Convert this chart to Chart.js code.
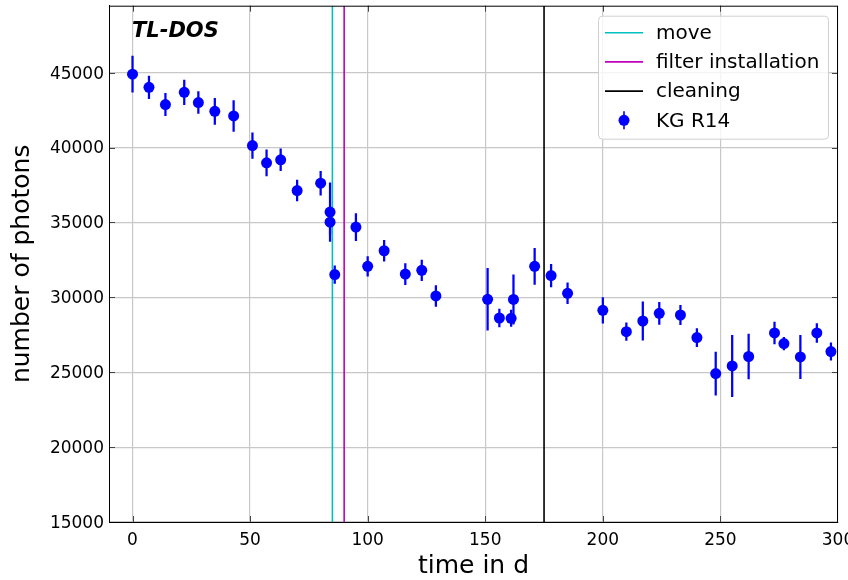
<!DOCTYPE html>
<html><head><meta charset="utf-8">
<script src="https://cdn.jsdelivr.net/npm/chart.js@4.4.0/dist/chart.umd.min.js"></script>
<style>html,body{margin:0;padding:0;background:#fff}#wrap{width:848px;height:580px}</style>
</head><body><div id="wrap"><canvas id="c" width="848" height="580"></canvas></div>
<script>
// ---- data ----
const days = [0,7,14,22,28,35,43,51,57,63,70,80,84,84,86,95,100,107,116,123,129,151,156,161,162,171,178,185,200,210,217,224,233,240,248,255,262,273,277,284,291,297];
const photons = [44900,44020,42870,43690,43000,42420,42110,40130,38980,39180,37130,37620,35690,35020,31520,34690,32070,33110,31550,31800,30090,29870,28620,28600,29860,32070,31450,30270,29130,27710,28420,28930,28820,27310,24910,25420,26050,27620,26910,26020,27620,26380];
const errors  = [1200,750,750,820,730,870,1030,850,870,730,700,800,1950,800,590,900,650,700,700,680,690,2060,590,550,1650,1200,750,690,850,590,1280,740,640,610,1440,2050,1490,730,420,1450,630,580];
const eventNames = ['move','filter installation','cleaning'];
const eventDays  = [85,90,175];
const eventColors = ['#00bfbf','#bf00bf','#000000'];
const seriesName = 'KG R14';
const xTickValues = [0,50,100,150,200,250,300];
const yTickValues = [15000,20000,25000,30000,35000,40000,45000];
const xMin = -10, xMax = 300, yMin = 15000, yMax = 49470;

const FONT = "'DejaVu Sans', 'Liberation Sans', sans-serif";

const pointData = days.map((d,i)=>({x:d, y:photons[i]}));
const errData = days.map((d,i)=>({x:d, y:[photons[i]-errors[i], photons[i]+errors[i]]}));

const lineSets = eventDays.map((d,i)=>({
  type:'line', label:eventNames[i], data:[{x:d,y:yMin},{x:d,y:yMax}],
  borderColor:eventColors[i], borderWidth:1.6, pointRadius:0, showLine:true, fill:false, order:3
}));

const framePlugin = {
  id:'frame',
  beforeDatasetsDraw(chart){
    // inward tick marks on all four sides
    const {ctx, chartArea:a, scales} = chart;
    ctx.save();
    ctx.strokeStyle = '#444'; ctx.lineWidth = 1;
    ctx.beginPath();
    xTickValues.forEach(v=>{
      const px = Math.round(scales.x.getPixelForValue(v))+0.5;
      if (px > a.right) return;
      ctx.moveTo(px, a.bottom); ctx.lineTo(px, a.bottom-6);
      ctx.moveTo(px, a.top); ctx.lineTo(px, a.top+6);
    });
    yTickValues.forEach(v=>{
      const py = Math.round(scales.y.getPixelForValue(v))+0.5;
      ctx.moveTo(a.left, py); ctx.lineTo(a.left+6, py);
      ctx.moveTo(a.right, py); ctx.lineTo(a.right-6, py);
    });
    ctx.stroke();
    ctx.restore();
  },
  afterDraw(chart){
    const {ctx, chartArea:a} = chart;
    ctx.save();
    ctx.strokeStyle = '#000'; ctx.lineWidth = 1;
    ctx.strokeRect(a.left+0.5, a.top+0.5, a.right-a.left-1, a.bottom-a.top);
    // annotation text
    ctx.fillStyle = '#000';
    ctx.font = "italic bold 21px " + FONT;
    ctx.textBaseline = 'alphabetic'; ctx.textAlign='left';
    ctx.fillText('TL-DOS', a.left+23, a.top+31);
    // legend
    const bx = a.right - 10 - 230, by = a.top + 10, bw = 230, bh = 123;
    ctx.beginPath();
    ctx.roundRect(bx+0.5, by+0.5, bw, bh, 4);
    ctx.fillStyle = 'rgba(255,255,255,0.8)'; ctx.fill();
    ctx.strokeStyle = '#d0d0d0'; ctx.lineWidth = 1; ctx.stroke();
    ctx.font = "20px " + FONT; ctx.textBaseline='middle';
    const rowY = i => by + 17 + i*29.2;
    eventNames.forEach((n,i)=>{
      ctx.strokeStyle = eventColors[i]; ctx.lineWidth = 1.6;
      ctx.beginPath(); ctx.moveTo(bx+7, rowY(i)); ctx.lineTo(bx+45, rowY(i)); ctx.stroke();
      ctx.fillStyle='#000'; ctx.fillText(n, bx+58, rowY(i)+1);
    });
    const y4 = rowY(3);
    ctx.strokeStyle='#0000ff'; ctx.lineWidth=1.6;
    ctx.beginPath(); ctx.moveTo(bx+26, y4-9); ctx.lineTo(bx+26, y4+9); ctx.stroke();
    ctx.fillStyle='#0000ff'; ctx.beginPath(); ctx.arc(bx+26, y4, 5.5, 0, Math.PI*2); ctx.fill();
    ctx.fillStyle='#000'; ctx.fillText(seriesName, bx+58, y4+1);
    ctx.restore();
  }
};

new Chart(document.getElementById('c'), {
  type:'scatter',
  data:{ datasets:[
    {type:'scatter', label:seriesName, data:pointData, backgroundColor:'#0000ff', borderWidth:0, pointRadius:5.5, pointHoverRadius:5.5, order:0},
    {type:'bar', label:'err', data:errData, backgroundColor:'#0000ff', borderWidth:0, barThickness:1.6, grouped:false, order:1},
    ...lineSets
  ]},
  options:{
    responsive:false, animation:false, devicePixelRatio:1, events:[],
    layout:{padding:{top:5.7, right:10, bottom:0, left:0}},
    plugins:{legend:{display:false}, tooltip:{enabled:false}},
    scales:{
      x:{type:'linear', min:xMin, max:xMax, offset:false,
        afterBuildTicks(s){ s.ticks = xTickValues.map(v=>({value:v})); },
        ticks:{color:'#000', padding:8, maxRotation:0, autoSkip:false,
          font:{family:FONT, size:17}, callback:v=>String(v)},
        grid:{color:'#c8c8c8', lineWidth:1.2, drawTicks:false, offset:false},
        border:{display:true, color:'#000', width:1},
        title:{display:true, text:'time in d', color:'#000', font:{family:FONT, size:25, lineHeight:1.05}, padding:{top:0,bottom:0}},
        afterFit(s){ s.height = 58; s.paddingLeft = 0; s.paddingRight = 0; }
      },
      y:{type:'linear', min:yMin, max:yMax, beginAtZero:false,
        afterBuildTicks(s){ s.ticks = yTickValues.map(v=>({value:v})); },
        ticks:{color:'#000', padding:5, autoSkip:false, labelOffset:1.5,
          font:{family:FONT, size:17}, callback:v=>String(v)},
        grid:{color:'#c8c8c8', lineWidth:1.2, drawTicks:false},
        border:{display:true, color:'#000', width:1},
        title:{display:true, text:'number of photons', color:'#000', font:{family:FONT, size:25}, padding:{top:7,bottom:0}},
        afterFit(s){ s.width = 109; s.paddingTop = 0; s.paddingBottom = 0; }
      }
    }
  },
  plugins:[framePlugin]
});
</script></body></html>
